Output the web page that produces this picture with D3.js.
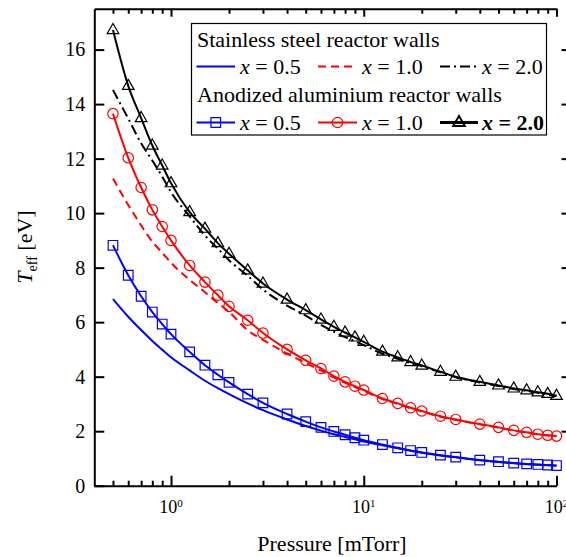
<!DOCTYPE html>
<html><head><meta charset="utf-8">
<script src="https://cdn.jsdelivr.net/npm/d3@7"></script>
<style>
body{margin:0;background:#fff}
svg{display:block}
</style></head><body>
<svg id="chart" width="566" height="557"></svg>
<script>
// Pressure points (mTorr) at which the effective electron temperature is evaluated
const pressure = [0.5,0.6,0.7,0.8,0.9,1,1.25,1.5,1.75,2,2.5,3,4,5,6,7,8,9,10,12.5,15,17.5,20,25,30,40,50,60,70,80,90,100];

// Stainless steel reactor walls (lines only)
const steelX05 = [6.85,6.20,5.71,5.31,4.99,4.71,4.23,3.85,3.58,3.36,3.02,2.77,2.43,2.19,2.02,1.89,1.79,1.70,1.62,1.48,1.37,1.28,1.21,1.11,1.04,0.93,0.87,0.82,0.79,0.77,0.75,0.73];
const steelX10 = [11.27,10.30,9.55,8.95,8.55,8.18,7.55,7.10,6.70,6.38,5.70,5.35,4.85,4.50,4.22,3.97,3.77,3.62,3.48,3.18,3.00,2.84,2.72,2.53,2.41,2.25,2.13,2.02,1.95,1.88,1.84,1.81];
const steelX20 = [14.52,13.47,12.56,11.93,11.34,10.77,9.88,9.18,8.70,8.27,7.70,7.20,6.61,6.24,5.90,5.65,5.45,5.30,5.16,4.84,4.66,4.50,4.38,4.16,3.98,3.79,3.66,3.55,3.48,3.41,3.35,3.28];

// Anodized aluminium reactor walls (lines with markers)
const anodX05 = [8.82,7.72,6.95,6.37,5.93,5.56,4.91,4.42,4.07,3.79,3.36,3.04,2.63,2.35,2.14,1.99,1.87,1.76,1.67,1.51,1.39,1.29,1.22,1.12,1.05,0.94,0.88,0.83,0.80,0.78,0.76,0.74];
const anodX10 = [13.65,12.03,10.94,10.12,9.51,9.00,8.08,7.47,6.99,6.58,6.07,5.60,5.00,4.60,4.30,4.02,3.81,3.65,3.51,3.20,3.02,2.86,2.74,2.55,2.43,2.26,2.14,2.03,1.96,1.89,1.85,1.82];
const anodX20 = [16.72,14.67,13.49,12.48,11.75,11.10,10.04,9.43,8.90,8.51,7.90,7.42,6.83,6.44,6.10,5.83,5.62,5.44,5.28,4.92,4.71,4.54,4.41,4.18,4.00,3.81,3.68,3.57,3.50,3.43,3.37,3.30];

const xMajorTicks = [1,10,100];
const xMinorTicks = [0.5,0.6,0.7,0.8,0.9,2,3,4,5,6,7,8,9,20,30,40,50,60,70,80,90];
const xTickExponents = ["0","1","2"];
const yTicks = [0,2,4,6,8,10,12,14,16];
const yTickLabels = ["0","2","4","6","8","10","12","14","16"];

const FONT = "'Liberation Serif','Times New Roman',serif";
const svg = d3.select("#chart").style("font-family", FONT);

const x = d3.scaleLog().domain([0.4,100]).range([94.3,556.5]);
const y = d3.scaleLinear().domain([0,17.5]).range([485.7,8.7]);

function styleAxis(g){
  g.attr("font-family", FONT).attr("font-size", 20);
  g.selectAll(".domain").attr("stroke","#000").attr("stroke-width",2);
  g.selectAll(".tick line").attr("stroke","#000").attr("stroke-width",2);
  g.selectAll(".tick text").attr("fill","#000");
}

// bottom axis (ticks pointing inward)
const gBottom = svg.append("g").attr("transform",`translate(0,${y(0)})`);
gBottom.call(d3.axisBottom(x).tickValues(xMajorTicks).tickSizeInner(-10).tickSizeOuter(0).tickFormat(""));
gBottom.append("g").call(d3.axisBottom(x).tickValues(xMinorTicks).tickSizeInner(-5).tickSizeOuter(0).tickFormat(""))
  .select(".domain").remove();
styleAxis(gBottom);

// top axis
const gTop = svg.append("g").attr("transform",`translate(0,${y(17.5)})`);
gTop.call(d3.axisTop(x).tickValues(xMajorTicks).tickSizeInner(-8).tickSizeOuter(0).tickFormat(""));
gTop.append("g").call(d3.axisTop(x).tickValues(xMinorTicks).tickSizeInner(-5).tickSizeOuter(0).tickFormat(""))
  .select(".domain").remove();
styleAxis(gTop);

// left axis
const gLeft = svg.append("g").attr("transform",`translate(${x(0.4)},0)`);
gLeft.call(d3.axisLeft(y).tickValues(yTicks).tickSizeInner(-10).tickSizeOuter(0).tickPadding(9)
  .tickFormat((d,i)=>yTickLabels[i]));
styleAxis(gLeft);

// right-hand mirror ticks
const gRight = svg.append("g").attr("transform","translate(567.5,0)");
gRight.call(d3.axisRight(y).tickValues(yTicks.slice(1)).tickSizeInner(-6).tickSizeOuter(0).tickFormat(""));
gRight.select(".domain").remove();
styleAxis(gRight);

// x tick labels as powers of ten
xMajorTicks.forEach((v,i)=>{
  const t = svg.append("text").attr("x",x(v)).attr("y",513).attr("text-anchor","middle")
    .attr("font-size",18).attr("fill","#000");
  t.append("tspan").text("10");
  t.append("tspan").attr("font-size",11).attr("dy",-6).text(xTickExponents[i]);
});

// axis titles
svg.append("text").attr("x",332).attr("y",551).attr("text-anchor","middle")
  .attr("font-size",22).attr("fill","#000").text("Pressure [mTorr]");

const yTitle = svg.append("text").attr("transform","translate(32,247) rotate(-90)")
  .attr("text-anchor","middle").attr("font-size",22).attr("fill","#000");
yTitle.append("tspan").attr("font-style","italic").text("T");
yTitle.append("tspan").attr("font-size",14).attr("dy",5).text("eff");
yTitle.append("tspan").attr("dy",-5).text(" [eV]");

// curves
const line = d3.line().x(d=>x(d[0])).y(d=>y(d[1])).curve(d3.curveMonotoneX);
const pts = arr => pressure.map((p,i)=>[p,arr[i]]);

const steel = [
  {values: steelX05, color:"#0000ff", dash:null},
  {values: steelX10, color:"#ff0000", dash:"8,5"},
  {values: steelX20, color:"#000000", dash:"10,4,2,4"}
];
steel.forEach(s=>{
  svg.append("path").attr("d",line(pts(s.values))).attr("fill","none")
    .attr("stroke",s.color).attr("stroke-width",2).attr("stroke-dasharray",s.dash);
});

const trianglePath = "M0,-6.5L5.8,3.6L-5.8,3.6Z";
const squarePath = "M-4.8,-4.8H4.8V4.8H-4.8Z";
const circlePath = "M5.2,0A5.2,5.2 0 1,1 -5.2,0A5.2,5.2 0 1,1 5.2,0Z";

const anod = [
  {values: anodX05, color:"#0000ff", marker:squarePath, width:2},
  {values: anodX10, color:"#ff0000", marker:circlePath, width:2},
  {values: anodX20, color:"#000000", marker:trianglePath, width:2}
];
anod.forEach(s=>{
  svg.append("path").attr("d",line(pts(s.values))).attr("fill","none")
    .attr("stroke",s.color).attr("stroke-width",s.width);
  svg.append("g").selectAll("path").data(pts(s.values)).join("path")
    .attr("d",s.marker).attr("transform",d=>`translate(${x(d[0])},${y(d[1])})`)
    .attr("fill","none").attr("stroke",s.color).attr("stroke-width",1.2);
});

// legend
const lg = svg.append("g").attr("font-size",22).attr("fill","#000");
lg.append("rect").attr("x",191.5).attr("y",23.5).attr("width",355).attr("height",111.5)
  .attr("fill","#fff").attr("stroke","#000").attr("stroke-width",1.2);
lg.append("text").attr("x",197).attr("y",46.5).text("Stainless steel reactor walls");
lg.append("text").attr("x",197).attr("y",101.5).text("Anodized aluminium reactor walls");

const legendCols = [
  {x0:196.5, x1:235, tx:240, label:"0.5"},
  {x0:318, x1:357, tx:362, label:"1.0"},
  {x0:440, x1:478, tx:482, label:"2.0"}
];
function entry(col, yLine, yText, stroke, opts){
  lg.append("line").attr("x1",col.x0).attr("x2",col.x1).attr("y1",yLine).attr("y2",yLine)
    .attr("stroke",stroke).attr("stroke-width",opts.width||2).attr("stroke-dasharray",opts.dash||null);
  if(opts.marker){
    lg.append("path").attr("d",opts.marker)
      .attr("transform",`translate(${(col.x0+col.x1)/2},${yLine})`)
      .attr("fill","none").attr("stroke",stroke).attr("stroke-width",opts.markerWidth||1.2);
  }
  const t = lg.append("text").attr("x",col.tx).attr("y",yText).attr("font-weight",opts.bold?"bold":null);
  t.append("tspan").attr("font-style","italic").text("x");
  t.append("tspan").text(" = " + col.label);
}
steel.forEach((s,i)=>entry(legendCols[i], 66.5, 74, s.color, {dash:s.dash}));
anod.forEach((s,i)=>entry(legendCols[i], 122.5, 129.5, s.color,
  {marker:s.marker, width: i===2?3:2, markerWidth: i===2?2:1.2, bold: i===2}));
</script>
</body></html>
